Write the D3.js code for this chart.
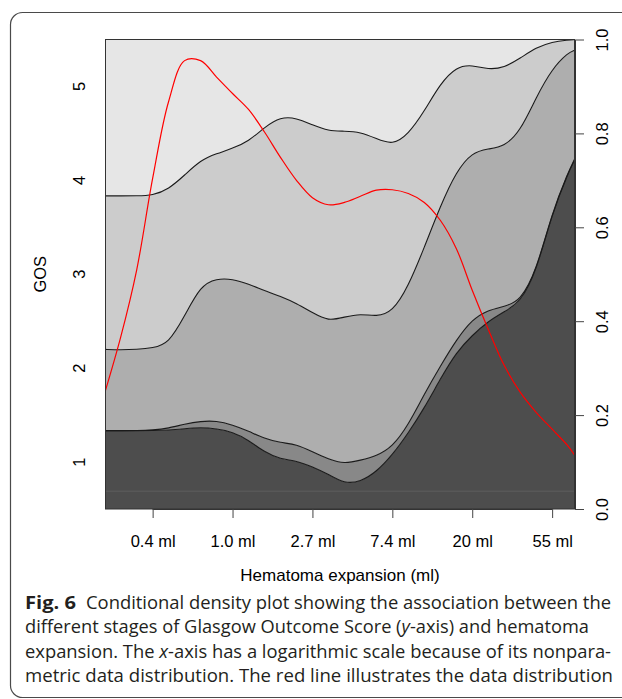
<!DOCTYPE html>
<html>
<head>
<meta charset="utf-8">
<script src="https://cdn.jsdelivr.net/npm/d3@7"></script>
<style>
  body { margin: 0; background: #fff; }
  svg { display: block; }
</style>
</head>
<body>
<svg id="chart"></svg>
<script>
// x positions: ln(hematoma expansion, ml)
const logVolume = [-1.6,-1.4,-1.2,-1.0,-0.8,-0.6,-0.4,-0.2,0.0,0.2,0.4,0.6,0.8,1.0,1.2,1.4,
  1.6,1.8,2.0,2.2,2.4,2.6,2.8,3.0,3.2,3.4,3.6,3.8,4.0,4.2,4.28];

// cumulative conditional probabilities P(GOS <= k | x)
const cumGOS1 = [0.167,0.167,0.167,0.167,0.168,0.171,0.174,0.171,0.164,0.147,0.121,0.106,0.103,0.090,0.074,0.054,
  0.058,0.079,0.115,0.162,0.215,0.277,0.334,0.370,0.400,0.420,0.440,0.504,0.630,0.715,0.743];
const cumGOS2 = [0.167,0.167,0.167,0.168,0.172,0.181,0.187,0.188,0.179,0.166,0.150,0.141,0.138,0.122,0.106,0.096,
  0.104,0.113,0.132,0.179,0.245,0.304,0.360,0.404,0.424,0.431,0.443,0.506,0.632,0.717,0.745];
const cumGOS3 = [0.340,0.339,0.340,0.343,0.352,0.411,0.476,0.491,0.490,0.479,0.465,0.453,0.438,0.418,0.400,0.409,
  0.416,0.410,0.419,0.474,0.557,0.645,0.719,0.760,0.767,0.772,0.804,0.877,0.938,0.972,0.977];
const cumGOS4 = [0.667,0.667,0.667,0.668,0.681,0.711,0.743,0.757,0.768,0.783,0.813,0.835,0.833,0.818,0.805,0.805,
  0.803,0.789,0.775,0.798,0.847,0.906,0.942,0.946,0.936,0.940,0.960,0.983,0.995,0.999,1.0];

// red line: distribution of hematoma expansion (scaled)
const volumeDensity = [0.247,0.366,0.509,0.704,0.868,0.955,0.955,0.920,0.885,0.851,0.803,0.749,0.700,0.663,0.648,0.653,
  0.666,0.679,0.680,0.672,0.653,0.615,0.555,0.466,0.383,0.306,0.249,0.206,0.170,0.134,0.115];

const gosLevels = ['1','2','3','4','5'];
const gosMarginal = [0.2, 0.2, 0.2, 0.2, 0.2];
const bandColors = ['#4d4d4d','#888888','#aeaeae','#cccccc','#e6e6e6'];
const xTickLn = [-1, 0, 1, 2, 3, 4];
const xTickLabels = ['0.4 ml','1.0 ml','2.7 ml','7.4 ml','20 ml','55 ml'];
const yTicks = [0, 0.2, 0.4, 0.6, 0.8, 1.0];
const refLevel = 0.038;

const width = 622, height = 699;
const plot = { left: 105.5, right: 574.5, top: 39.5, bottom: 509 };
const font = 'Liberation Sans, Arial, Helvetica, sans-serif';

const svg = d3.select('#chart').attr('width', width).attr('height', height)
  .attr('viewBox', [0, 0, width, height]);

// rounded frame around figure + caption
svg.append('rect')
  .attr('x', 10.5).attr('y', 12.5).attr('width', 700).attr('height', 685)
  .attr('rx', 12).attr('fill', 'none').attr('stroke', '#4a4a4a').attr('stroke-width', 1.2);

const x = d3.scaleLinear().domain([-1.59, 4.28]).range([plot.left, plot.right]);
const y = d3.scaleLinear().domain([0, 1]).range([plot.bottom, plot.top]);

svg.append('clipPath').attr('id', 'clip')
  .append('rect').attr('x', plot.left).attr('y', plot.top)
  .attr('width', plot.right - plot.left).attr('height', plot.bottom - plot.top);

const bounds = [logVolume.map(() => 0), cumGOS1, cumGOS2, cumGOS3, cumGOS4, logVolume.map(() => 1)];
const bandCurve = d3.curveBasis;

const g = svg.append('g').attr('clip-path', 'url(#clip)');

const area = (lo, hi) => d3.area()
  .x((d, i) => x(logVolume[i]))
  .y0((d, i) => y(lo[i]))
  .y1((d, i) => y(hi[i]))
  .curve(bandCurve)(logVolume);

bandColors.forEach((c, k) => {
  g.append('path').attr('d', area(bounds[k], bounds[k + 1])).attr('fill', c);
});

g.append('line')
  .attr('x1', plot.left).attr('x2', plot.right)
  .attr('y1', y(refLevel)).attr('y2', y(refLevel))
  .attr('stroke', '#5e5e5e').attr('stroke-width', 1);

const line = (vals, crv) => d3.line()
  .x((d, i) => x(logVolume[i]))
  .y((d, i) => y(vals[i]))
  .curve(crv)(logVolume);

[cumGOS1, cumGOS2, cumGOS3, cumGOS4].forEach(vals => {
  g.append('path').attr('d', line(vals, bandCurve))
    .attr('fill', 'none').attr('stroke', '#1a1a1a').attr('stroke-width', 1.1);
});

g.append('path').attr('d', line(volumeDensity, d3.curveCatmullRom.alpha(0.5)))
  .attr('fill', 'none').attr('stroke', '#ff0000').attr('stroke-width', 1.2);

// box
svg.append('rect')
  .attr('x', plot.left).attr('y', plot.top)
  .attr('width', plot.right - plot.left).attr('height', plot.bottom - plot.top)
  .attr('fill', 'none').attr('stroke', '#333').attr('stroke-width', 1);

// bottom axis
const xAxis = svg.append('g')
  .attr('transform', `translate(0,${plot.bottom})`)
  .call(d3.axisBottom(x).tickValues(xTickLn).tickFormat((d, i) => xTickLabels[i])
    .tickSize(9).tickSizeOuter(0));
xAxis.select('.domain').attr('d', `M${x(xTickLn[0])},0.5H${x(xTickLn[xTickLn.length - 1])}`)
  .attr('stroke', '#333');
xAxis.selectAll('.tick line').attr('stroke', '#444');
xAxis.selectAll('text').attr('y', 38).attr('dy', 0)
  .attr('font-family', font).attr('font-size', 16.5).attr('fill', '#000');

// right axis
const rAxis = svg.append('g')
  .attr('transform', `translate(${plot.right + 0.5},0)`)
  .call(d3.axisRight(y).tickValues(yTicks).tickFormat(d3.format('.1f'))
    .tickSize(9).tickSizeOuter(0));
rAxis.select('.domain').attr('stroke', '#333');
rAxis.selectAll('.tick line').attr('stroke', '#444');
rAxis.selectAll('text')
  .attr('transform', 'rotate(-90)')
  .attr('x', 0).attr('y', 33).attr('dy', 0)
  .attr('text-anchor', 'middle')
  .attr('font-family', font).attr('font-size', 16.5).attr('fill', '#000');

// left axis labels: midpoints of marginal GOS proportions, no ticks
const cumMarg = [0, ...d3.cumsum(gosMarginal)];
svg.append('g').selectAll('text').data(gosLevels).join('text')
  .attr('transform', (d, i) => `translate(85,${y((cumMarg[i] + cumMarg[i + 1]) / 2)}) rotate(-90)`)
  .attr('text-anchor', 'middle')
  .attr('font-family', font).attr('font-size', 16.5).attr('fill', '#000')
  .text(d => d);

// axis titles
svg.append('text')
  .attr('transform', `translate(46,${(plot.top + plot.bottom) / 2}) rotate(-90)`)
  .attr('text-anchor', 'middle')
  .attr('font-family', font).attr('font-size', 16.5).attr('fill', '#000')
  .text('GOS');

svg.append('text')
  .attr('x', (plot.left + plot.right) / 2).attr('y', 581)
  .attr('text-anchor', 'middle')
  .attr('font-family', font).attr('font-size', 17).attr('fill', '#000')
  .text('Hematoma expansion (ml)');

// caption
const capFont = 'Open Sans, Noto Sans, sans-serif';
const capColor = '#231f20';
const cap = (xx, yy, len, parts, bold) => {
  const t = svg.append('text')
    .attr('x', xx).attr('y', yy)
    .attr('textLength', len).attr('lengthAdjust', 'spacingAndGlyphs')
    .attr('font-family', capFont).attr('font-size', 17.5).attr('fill', capColor)
    .attr('font-weight', bold ? 700 : 400);
  parts.forEach(p => {
    t.append('tspan').attr('font-style', p.i ? 'italic' : 'normal').text(p.t);
  });
};
cap(25, 608.5, 51, [{t: 'Fig. 6'}], true);
cap(86, 608.5, 525, [{t: 'Conditional density plot showing the association between the'}]);
cap(25, 633, 564, [{t: 'different stages of Glasgow Outcome Score ('}, {t: 'y', i: true}, {t: '-axis) and hematoma'}]);
cap(25, 657.5, 586, [{t: 'expansion. The '}, {t: 'x', i: true}, {t: '-axis has a logarithmic scale because of its nonpara-'}]);
cap(25, 682, 588, [{t: 'metric data distribution. The red line illustrates the data distribution'}]);
</script>
</body>
</html>
